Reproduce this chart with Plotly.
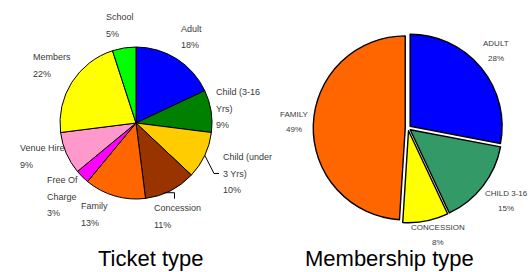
import math
import textwrap
import plotly.graph_objects as go

# ---- data ----
ticket_labels = ["Adult", "Child (3-16 Yrs)", "Child (under 3 Yrs)", "Concession", "Family",
                 "Free Of Charge", "Venue Hire", "Members", "School"]
ticket_values = [18, 9, 10, 11, 13, 3, 9, 22, 5]
ticket_colors = ["#0000FF", "#008000", "#FFCC00", "#993300", "#FF6600",
                 "#FF00FF", "#FF99CC", "#FFFF00", "#00FF00"]

member_labels = ["ADULT", "CHILD 3-16", "CONCESSION", "FAMILY"]
member_values = [28, 15, 8, 49]
member_colors = ["#0000FF", "#339966", "#FFFF00", "#FF6600"]

titles = ["Ticket type", "Membership type"]

# ---- layout (pixel positions of the text blocks, as placed in the original) ----
W, H = 528, 272
FONT = "Liberation Sans Narrow, Arial Narrow, Liberation Sans, Arial, sans-serif"
LABEL_COLOR = "#3a3a3a"

# left chart: (left x of block, y of first line)
ticket_label_pos = {
    "Adult": (179, 29), "Child (3-16 Yrs)": (214, 92), "Child (under 3 Yrs)": (221, 157),
    "Concession": (152, 208), "Family": (79, 206), "Free Of Charge": (45, 180),
    "Venue Hire": (18, 148), "Members": (31, 57), "School": (104, 17),
}
# right chart: (centre x of block, y of first line)
member_label_pos = {
    "ADULT": (496, 43), "CHILD 3-16": (506, 193), "CONCESSION": (438, 227), "FAMILY": (294, 114),
}
title_pos = [(151, 258), (389, 258)]


def px(x):
    return x / W


def py(y):
    return 1 - y / H


def mid_angles(values):
    tot = float(sum(values))
    out, acc = [], 0.0
    for v in values:
        out.append(360.0 * (acc + v / 2.0) / tot)
        acc += v
    return out


L_CX, L_CY, L_R = 136, 123, 76
R_CX, R_CY, R_R, PULL = 408, 128, 92, 0.03

fig = go.Figure()
fig.add_trace(go.Pie(
    labels=ticket_labels, values=ticket_values, sort=False, direction="clockwise",
    marker=dict(colors=ticket_colors, line=dict(color="black", width=1)),
    textinfo="none", hoverinfo="label+percent", showlegend=False,
    domain=dict(x=[px(L_CX - L_R), px(L_CX + L_R)], y=[py(L_CY + L_R), py(L_CY - L_R)]),
))
half = R_R * (1 + PULL)
fig.add_trace(go.Pie(
    labels=member_labels, values=member_values, sort=False, direction="clockwise",
    pull=[PULL] * len(member_values),
    marker=dict(colors=member_colors, line=dict(color="black", width=1.4)),
    textinfo="none", hoverinfo="label+percent", showlegend=False,
    domain=dict(x=[px(R_CX - half), px(R_CX + half)], y=[py(R_CY + half), py(R_CY - half)]),
))

annotations = []
shapes = []
LINE = 16.5

# left pie labels (left aligned blocks)
tot = sum(ticket_values)
for lab, val, ang in zip(ticket_labels, ticket_values, mid_angles(ticket_values)):
    lines = textwrap.wrap(lab, 13) + [f"{round(100 * val / tot)}%"]
    left, y0 = ticket_label_pos[lab]
    for i, s in enumerate(lines):
        annotations.append(dict(x=px(left), y=py(y0 + i * LINE), xref="paper", yref="paper",
                                text=s, showarrow=False, xanchor="left", yanchor="middle",
                                font=dict(family=FONT, size=9, color=LABEL_COLOR)))
    a = math.radians(ang)
    ex = L_CX + L_R * math.sin(a)
    ey = L_CY - L_R * math.cos(a)
    if lab == "Child (under 3 Yrs)":
        ly = y0 + LINE
        shapes.append(dict(type="path", xref="paper", yref="paper",
                           path=f"M {px(ex)},{py(ey)} L {px(left - 7)},{py(ly)} L {px(left - 2)},{py(ly)}",
                           line=dict(color="black", width=1)))
    if lab == "Concession":
        shapes.append(dict(type="path", xref="paper", yref="paper",
                           path=f"M {px(ex - 6)},{py(ey + 2)} L {px(ex + 4)},{py(ey + 2)} L {px(ex + 4)},{py(ey + 8)}",
                           line=dict(color="black", width=1)))

# right pie labels (centred)
tot = sum(member_values)
for lab, val in zip(member_labels, member_values):
    lines = [lab, f"{round(100 * val / tot)}%"]
    cx, y0 = member_label_pos[lab]
    for i, s in enumerate(lines):
        annotations.append(dict(x=px(cx), y=py(y0 + i * 15.2), xref="paper", yref="paper",
                                text=s, showarrow=False, xanchor="center", yanchor="middle",
                                font=dict(family=FONT, size=8, color=LABEL_COLOR)))

# titles
for t, (x, y) in zip(titles, title_pos):
    annotations.append(dict(x=px(x), y=py(y), xref="paper", yref="paper", text=t,
                            showarrow=False, xanchor="center", yanchor="middle",
                            font=dict(family=FONT, size=22, color="black")))

fig.update_layout(width=W, height=H, margin=dict(l=0, r=0, t=0, b=0),
                  paper_bgcolor="white", plot_bgcolor="white",
                  annotations=annotations, shapes=shapes)
fig.write_html("out.html", config={"displayModeBar": False})

# remove the browser's default page margin so the figure fills the window
with open("out.html", encoding="utf-8") as f:
    html = f.read()
html = html.replace("<head>", "<head><style>html,body{margin:0;padding:0;overflow:hidden;}</style>", 1)
with open("out.html", "w", encoding="utf-8") as f:
    f.write(html)
